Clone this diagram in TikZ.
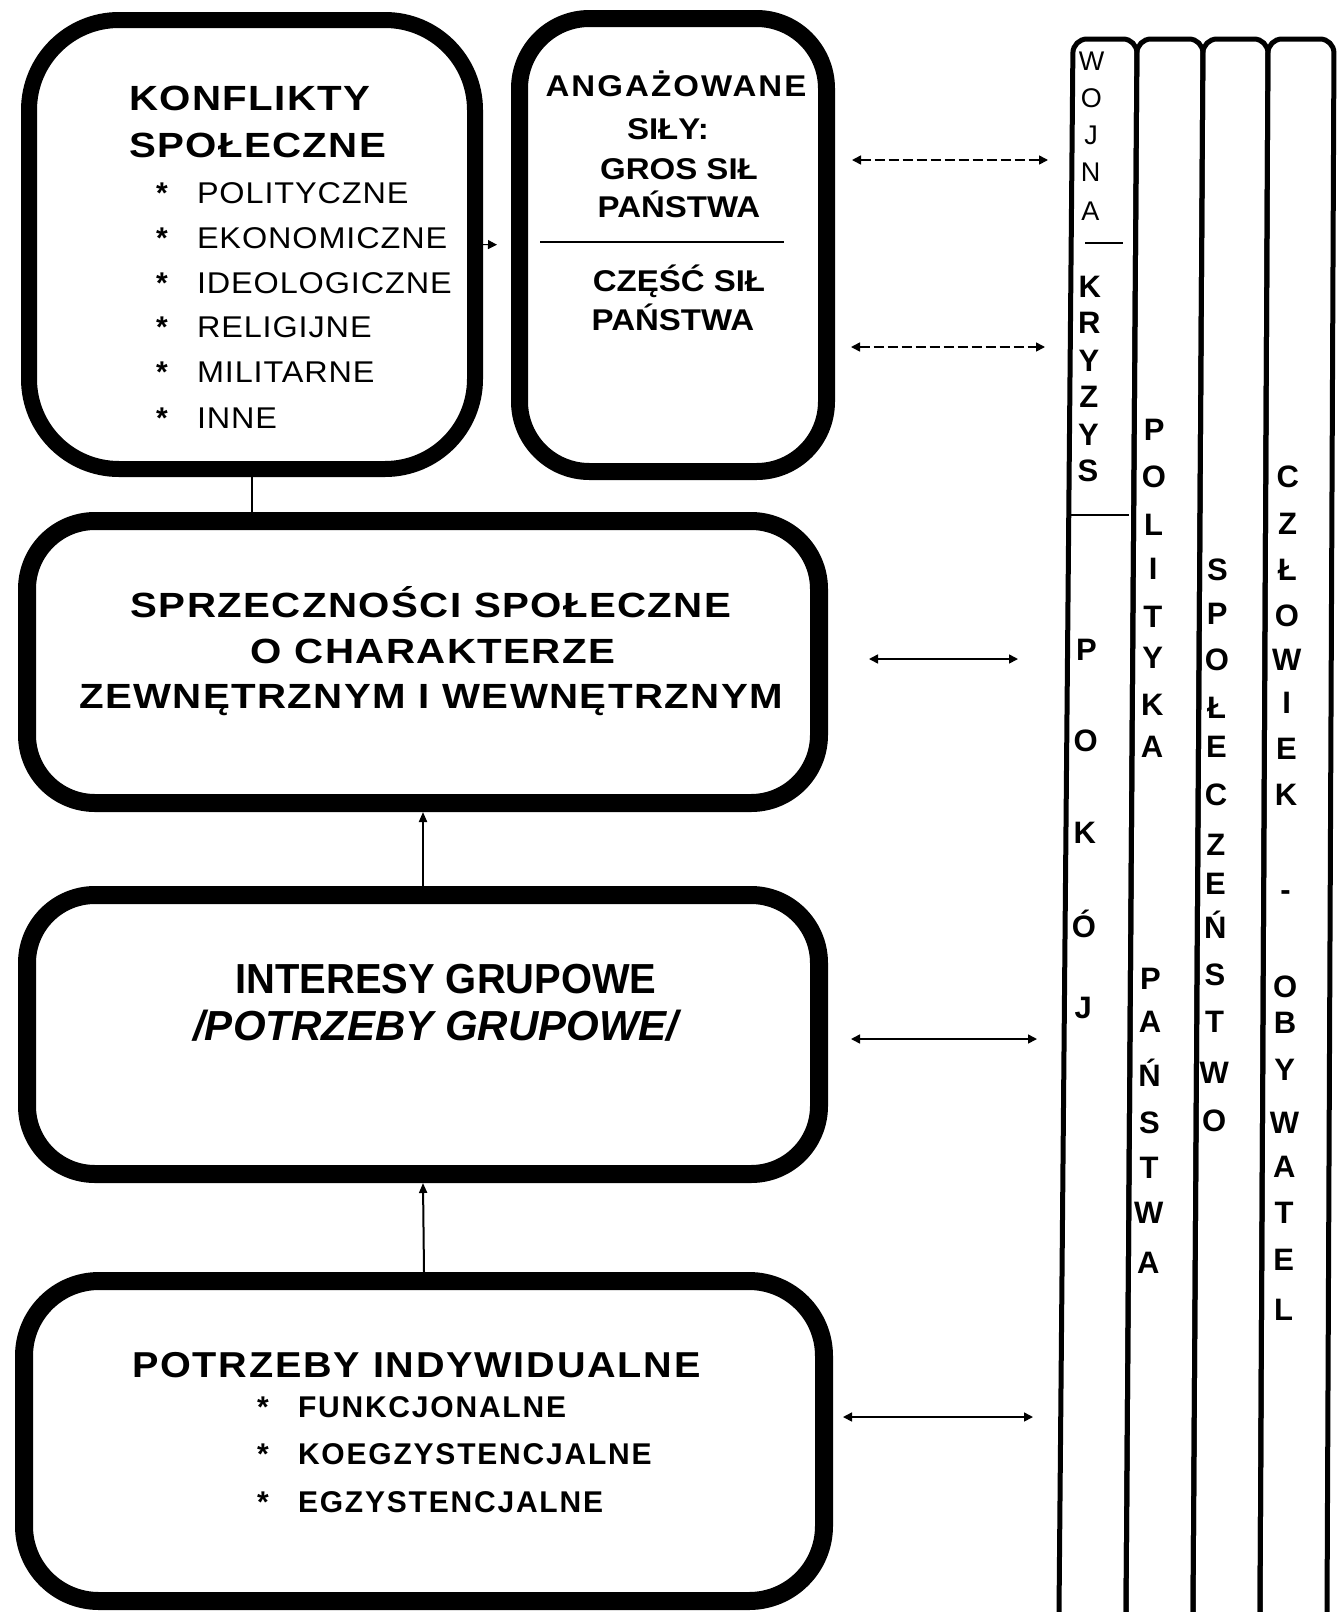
\documentclass[tikz,border=0pt]{standalone}
\usepackage{fontspec}
\setmainfont{Liberation Sans}
\newfontfamily\ttlfont{Liberation Sans}[FakeStretch=1.15,LetterSpace=4]
\newfontfamily\midfont{Liberation Sans}[FakeStretch=1.1]
\newfontfamily\angfont{Liberation Sans}[FakeStretch=1.1,LetterSpace=7]
\newfontfamily\itmfont{Liberation Sans}[FakeStretch=1.08,LetterSpace=3]
\newfontfamily\smfont{Liberation Sans}[LetterSpace=6]
\newfontfamily\pbfont{Liberation Sans}[FakeStretch=1.1,LetterSpace=5]
\newfontfamily\grfont{Liberation Sans}[FakeStretch=0.95]
\usetikzlibrary{arrows.meta,calc}
\newcommand{\colword}[5]{%
  \foreach \ch/\yy [count=\i] in {#4} {%
    \node[#3,anchor=base] (#5\i) at ($(Lt#1)!{(\yy-39)/1573}!(Lb#1)+(#2,0)$) {\ch};}}
\begin{document}
\begin{tikzpicture}[x=1pt,y=-1pt,
  bigbox/.style={draw,line width=17pt,inner sep=0pt},
  txt/.style={inner sep=0pt,outer sep=0pt},
  ttl/.style={txt,font=\ttlfont\bfseries\fontsize{35}{40}\selectfont},
  pbt/.style={txt,font=\pbfont\bfseries\fontsize{36}{40}\selectfont},
  btx/.style={txt,font=\midfont\bfseries\fontsize{30}{34}\selectfont},
  itm/.style={txt,font=\itmfont\fontsize{30}{34}\selectfont},
  itmb/.style={txt,font=\smfont\bfseries\fontsize{30}{34}\selectfont},
  star/.style={txt,font=\bfseries\fontsize{30}{34}\selectfont},
  grp/.style={txt,font=\bfseries\fontsize{42}{46}\selectfont},
  colch/.style={txt,font=\bfseries\fontsize{31}{34}\selectfont},
  colw/.style={txt,font=\fontsize{27}{30}\selectfont},
  colline/.style={line width=5pt,rounded corners=14pt},
  conn/.style={line width=2pt},
  uparr/.style={line width=2pt,-{Triangle[length=10pt,width=8pt]}},
  harr/.style={line width=1.6pt,{Triangle[length=9pt,width=9pt]}-{Triangle[length=9pt,width=9pt]}},
  dsh/.style={dash pattern=on 10pt off 4pt}
]
\useasboundingbox[fill=white] (0,0) rectangle (1343,1612);

% boxes
\node[bigbox,line width=16pt,rounded corners=90pt,minimum width=446pt,minimum height=449pt] (b1) at (252,244.5) {};
\node[bigbox,rounded corners=70pt,minimum width=307pt,minimum height=453pt] (b2) at (673,245) {};
\node[bigbox,line width=18pt,rounded corners=68pt,minimum width=792pt,minimum height=282pt] (b3) at (423,662) {};
\node[bigbox,line width=18pt,rounded corners=68pt,minimum width=792pt,minimum height=279pt] (b4) at (423,1034.5) {};
\node[bigbox,line width=18pt,rounded corners=75pt,minimum width=800pt,minimum height=320pt] (b5) at (424,1441) {};

% vertical connectors
\draw[conn] (b1.south) -- (b1.south |- b3.north);
\draw[uparr] (b4.north) -- (b3.south);
\draw[uparr] (b5.north) -- (b4.south);
\draw[line width=1pt,shorten >=14pt,-{Triangle[length=9pt,width=9pt]}] (b1.east) -- (b2.west);

% box 1 text
\node[ttl,anchor=base west] (t1a) at (129,110) {KONFLIKTY};
\node[ttl,anchor=base west] (t1b) at (129,157) {SPOŁECZNE};
\foreach \t/\yy [count=\i] in {POLITYCZNE/203, EKONOMICZNE/248, IDEOLOGICZNE/293, RELIGIJNE/337, MILITARNE/382, INNE/428} {
  \node[star,anchor=base west] (ks\i) at (156,\yy) {*};
  \node[itm,anchor=base west] (k\i) at (197,\yy) {\t};
}

% box 2 text
\node[btx,anchor=base] (a1) at (676,96) {\angfont ANGAŻOWANE};
\node[btx,anchor=base] (a2) at (668,139) {SIŁY:};
\node[btx,anchor=base] (a3) at (679,179) {GROS SIŁ};
\node[btx,anchor=base] (a4) at (679,217) {PAŃSTWA};
\coordinate (s2a) at (540,242);
\coordinate (s2b) at (784,242);
\draw[line width=2.5pt] (s2a) -- (s2b);
\node[btx,anchor=base] (a5) at (679,291) {CZĘŚĆ SIŁ};
\node[btx,anchor=base] (a6) at (673,330) {PAŃSTWA};

% box 3 text
\node[ttl,anchor=base] (c1) at (431,617) {SPRZECZNOŚCI SPOŁECZNE};
\node[ttl,anchor=base] (c2) at (433,663) {O CHARAKTERZE};
\node[ttl,anchor=base] (c3) at (431,708) {ZEWNĘTRZNYM I WEWNĘTRZNYM};

% box 4 text
\node[grp,anchor=base] (g1) at (446,993) {\grfont INTERESY GRUPOWE};
\node[grp,anchor=base] (g2) at (436,1040) {\itshape /POTRZEBY GRUPOWE/};

% box 5 text
\node[pbt,anchor=base west] (p0) at (132,1377) {POTRZEBY INDYWIDUALNE};
\foreach \t/\yy [count=\i] in {FUNKCJONALNE/1417, KOEGZYSTENCJALNE/1464, EGZYSTENCJALNE/1512} {
  \node[star,anchor=base west] (ps\i) at (257,\yy) {*};
  \node[itmb,anchor=base west] (p\i) at (298,\yy) {\t};
}

% columns
\coordinate (Lt0) at (1073,39);  \coordinate (Lb0) at (1059,1612);
\coordinate (Lt1) at (1137,39);  \coordinate (Lb1) at (1126,1612);
\coordinate (Lt2) at (1203,39);  \coordinate (Lb2) at (1193,1612);
\coordinate (Lt3) at (1268,39);  \coordinate (Lb3) at (1260,1612);
\coordinate (Lt4) at (1334,39);  \coordinate (Lb4) at (1327,1612);
\draw[colline] (Lb0) -- (Lt0) -- (Lt1) -- (Lb1);
\draw[colline] (Lb1) -- (Lt1) -- (Lt2) -- (Lb2);
\draw[colline] (Lb2) -- (Lt2) -- (Lt3) -- (Lb3);
\draw[colline] (Lb3) -- (Lt3) -- (Lt4) -- (Lb4);

% separators in column 1
\coordinate (q1a) at (1085,243); \coordinate (q1b) at (1123,243);
\coordinate (q2a) at (1070,515); \coordinate (q2b) at (1129,515);
\draw[line width=2.5pt] (q1a) -- (q1b);
\draw[line width=2.5pt] (q2a) -- (q2b);

% column words
\colword{0}{19}{colw}{W/71, O/108, J/145, N/182, A/220}{wo}
\colword{0}{19}{colch}{K/297, R/334, Y/371, Z/408, Y/445, S/482}{kr}
\colword{0}{19}{colch}{P/661, O/751, K/843, Ó/937, J/1018}{pk}
\colword{1}{20}{colch}{P/441, O/488, L/536, I/579, T/628, Y/669, K/716, A/757}{po}
\colword{1}{20}{colch}{P/990, A/1032, Ń/1086, S/1133, T/1179, W/1224, A/1274}{pa}
\colword{2}{18}{colch}{S/581, P/625, O/670, Ł/718, E/758, C/806, Z/855, E/895, Ń/938, S/986, T/1032, W/1083, O/1131}{sp}
\colword{3}{22}{colch}{C/488, Z/534, Ł/581, O/627, W/670, I/714, E/759, K/806, -/901, O/997, B/1034, Y/1081, W/1133, A/1177, T/1224, E/1270, L/1320}{cz}

% horizontal arrows
\coordinate (h1a) at (852,160);  \coordinate (h1b) at (1048,160);
\coordinate (h2a) at (851,347);  \coordinate (h2b) at (1045,347);
\coordinate (h3a) at (869,659);  \coordinate (h3b) at (1018,659);
\coordinate (h4a) at (851,1039); \coordinate (h4b) at (1037,1039);
\coordinate (h5a) at (843,1417); \coordinate (h5b) at (1033,1417);
\draw[harr,dsh] (h1a) -- (h1b);
\draw[harr,dsh] (h2a) -- (h2b);
\draw[harr] (h3a) -- (h3b);
\draw[harr] (h4a) -- (h4b);
\draw[harr] (h5a) -- (h5b);
\end{tikzpicture}
\end{document}
